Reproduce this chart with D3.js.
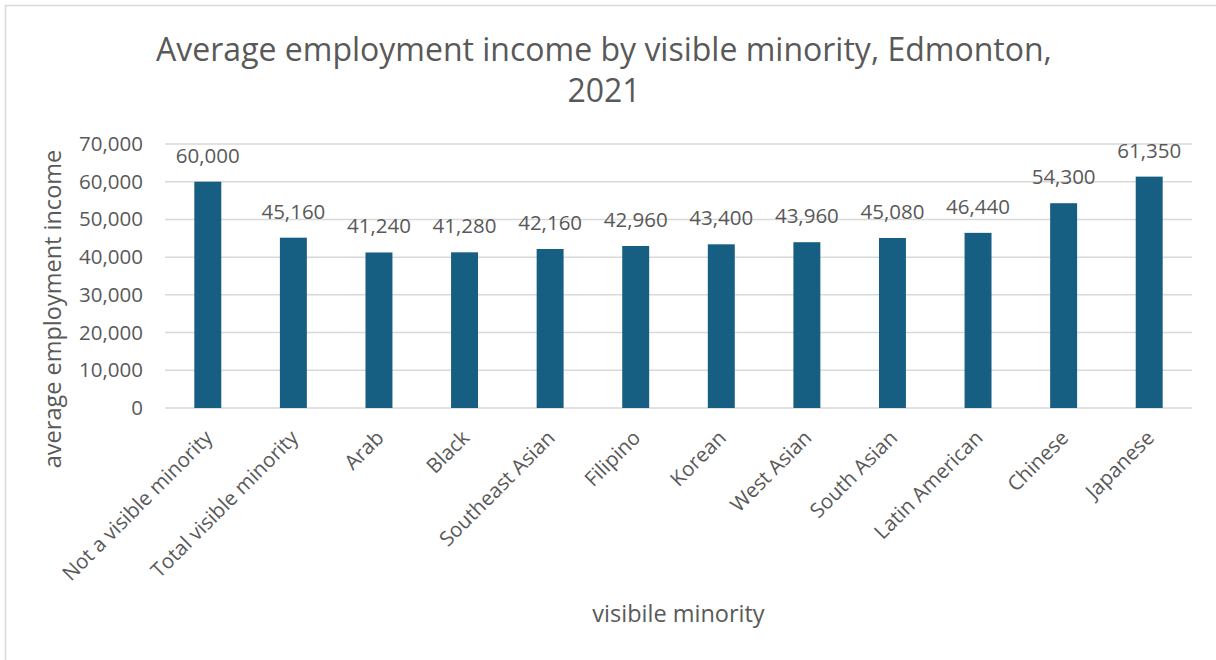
<!DOCTYPE html>
<html>
<head>
<meta charset="utf-8">
<script src="https://cdn.jsdelivr.net/npm/d3@7"></script>
<style>
  html, body { margin: 0; padding: 0; background: #fff; }
  svg { display: block; }
  text { font-family: "Open Sans", "Liberation Sans", sans-serif; fill: #595959; }
</style>
</head>
<body>
<svg id="chart" width="1216" height="660"></svg>
<script>
// Average employment income by visible minority group, Edmonton 2021
const categories = [
  "Not a visible minority", "Total visible minority", "Arab", "Black",
  "Southeast Asian", "Filipino", "Korean", "West Asian", "South Asian",
  "Latin American", "Chinese", "Japanese"
];
const incomes = [60000, 45160, 41240, 41280, 42160, 42960, 43400, 43960, 45080, 46440, 54300, 61350];
const yTicks = [0, 10000, 20000, 30000, 40000, 50000, 60000, 70000];

const titleLines = ["Average employment income by visible minority, Edmonton,", "2021"];
const yTitle = "average employment income";
const xTitle = "visibile minority";

const W = 1216, H = 660;
const plot = { left: 165, right: 1192, top: 144, bottom: 408 };
const barColor = "#175f82";
const gridColor = "#d9d9d9";

const svg = d3.select("#chart");

// frame
svg.append("path")
  .attr("d", `M5.5,${H} V5.5 H${W}`)
  .attr("fill", "none")
  .attr("stroke", gridColor)
  .attr("stroke-width", 1.5);

const x = d3.scaleBand()
  .domain(categories)
  .range([plot.left, plot.right])
  .paddingInner(0.685)
  .paddingOuter(0.3425);

const y = d3.scaleLinear()
  .domain([0, 70000])
  .range([plot.bottom, plot.top]);

const fmt = d3.format(",");

// horizontal gridlines
svg.append("g")
  .selectAll("line")
  .data(yTicks)
  .join("line")
  .attr("x1", plot.left)
  .attr("x2", plot.right)
  .attr("y1", d => y(d))
  .attr("y2", d => y(d))
  .attr("stroke", gridColor)
  .attr("stroke-width", 1.5);

// y axis labels
const yAxis = svg.append("g")
  .attr("transform", `translate(${plot.left - 22},0)`)
  .call(d3.axisLeft(y).tickValues(yTicks).tickFormat(fmt).tickSize(0).tickPadding(0));
yAxis.select(".domain").remove();
yAxis.selectAll("text")
  .attr("font-size", 20.5)
  .attr("font-family", null)
  .attr("fill", "#595959");

// bars
svg.append("g")
  .selectAll("rect")
  .data(incomes)
  .join("rect")
  .attr("x", (d, i) => x(categories[i]))
  .attr("width", x.bandwidth())
  .attr("y", d => y(d))
  .attr("height", d => y(0) - y(d))
  .attr("fill", barColor);

// value labels
svg.append("g")
  .selectAll("text")
  .data(incomes)
  .join("text")
  .attr("x", (d, i) => x(categories[i]) + x.bandwidth() / 2)
  .attr("y", d => y(d) - 19)
  .attr("text-anchor", "middle")
  .attr("font-size", 20.5)
  .text(d => fmt(d));

// category labels, slanted
svg.append("g")
  .selectAll("text")
  .data(categories)
  .join("text")
  .attr("transform", d => `translate(${x(d) + x.bandwidth() / 2 + 1},434) rotate(-45)`)
  .attr("text-anchor", "end")
  .attr("dy", "0.35em")
  .attr("font-size", 20.5)
  .text(d => d);

// axis titles
svg.append("text")
  .attr("transform", `translate(61,309) rotate(-90)`)
  .attr("text-anchor", "middle")
  .attr("font-size", 23.5)
  .text(yTitle);

svg.append("text")
  .attr("x", (plot.left + plot.right) / 2)
  .attr("y", 622)
  .attr("text-anchor", "middle")
  .attr("font-size", 23.5)
  .text(xTitle);

// chart title
const title = svg.append("text")
  .attr("text-anchor", "middle")
  .attr("font-size", 32);
title.selectAll("tspan")
  .data(titleLines)
  .join("tspan")
  .attr("x", 604)
  .attr("y", (d, i) => 61 + i * 41)
  .text(d => d);
</script>
</body>
</html>
